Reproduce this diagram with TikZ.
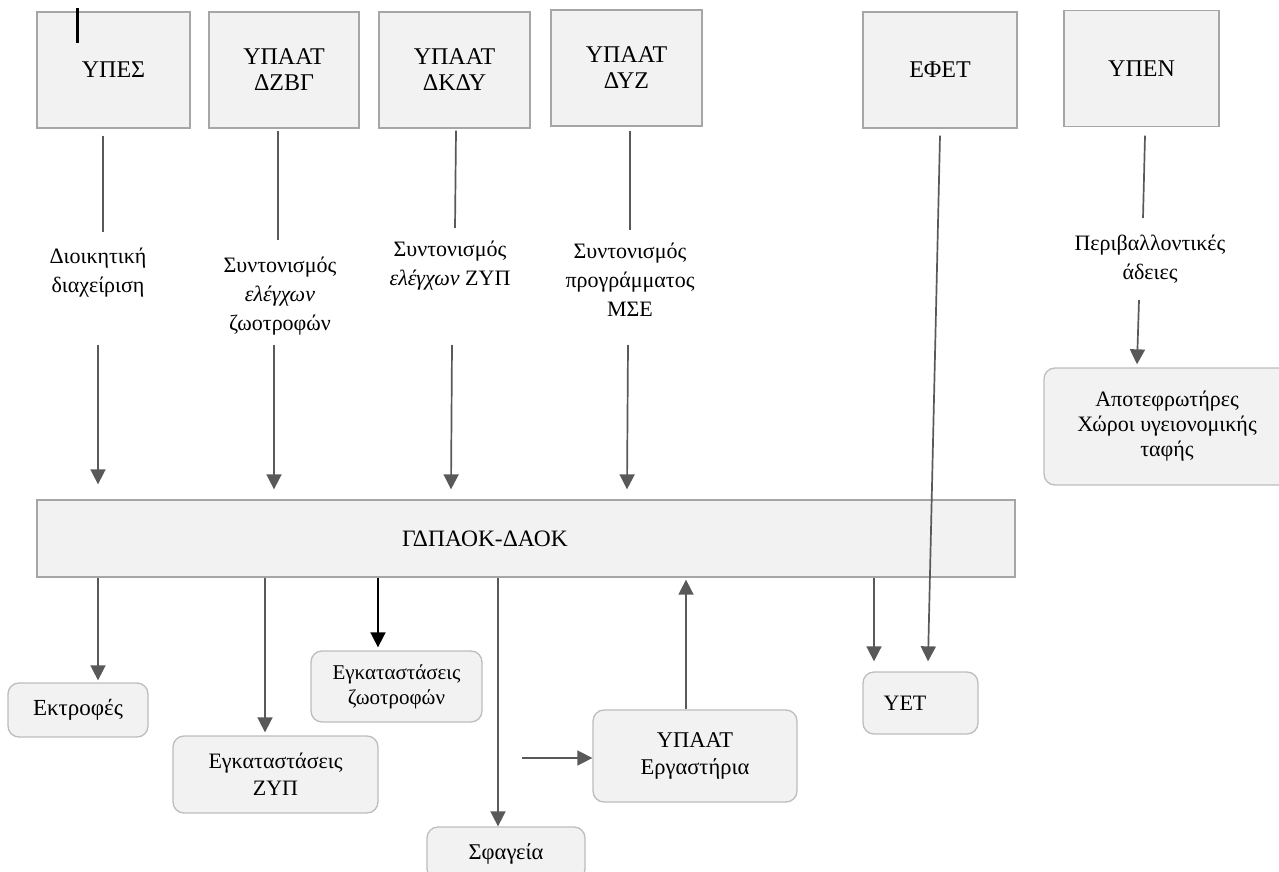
\documentclass[tikz,border=0pt]{standalone}
\usepackage{fontspec}
\setmainfont{Liberation Serif}
\usetikzlibrary{arrows.meta}
\definecolor{boxfill}{HTML}{F2F2F2}
\definecolor{boxline}{HTML}{A6A6A6}
\definecolor{rline}{HTML}{BDBDBD}
\definecolor{lncol}{HTML}{595959}
\begin{document}
\begin{tikzpicture}[x=1pt,y=-1pt,
  box/.style={draw=boxline, fill=boxfill, line width=1.3pt, align=center,
    font=\fontsize{24}{26}\selectfont, inner sep=0pt},
  rbox/.style={box, draw=rline, rounded corners=11pt, font=\fontsize{22}{27}\selectfont},
  lbl/.style={align=center, font=\fontsize{22}{29}\selectfont, inner sep=0pt},
  ln/.style={draw=lncol, line width=1.7pt},
  arr/.style={ln, -{Triangle[length=15pt,width=15pt]}},
  inlbl/.style={font=\fontsize{23.5}{25}\selectfont, inner sep=0pt}
]
\useasboundingbox (0,0) rectangle (1279,872);

% top boxes
\node[box, minimum width=153, minimum height=116] (ypes) at (113.5,70) {ΥΠΕΣ};
\node[box, minimum width=150, minimum height=116] (dzbg) at (284,70) {ΥΠΑΑΤ\\ΔΖΒΓ};
\node[box, minimum width=151, minimum height=116] (dkdy) at (454.5,70) {ΥΠΑΑΤ\\ΔΚΔΥ};
\node[box, minimum width=151, minimum height=116] (dyz) at (626.5,68) {ΥΠΑΑΤ\\ΔΥΖ};
\node[box, minimum width=154, minimum height=116] (efet) at (940,70) {ΕΦΕΤ};
\node[box, minimum width=155, minimum height=116] (ypen) at (1141.5,68.5) {ΥΠΕΝ};

% stray mark
\draw[line width=3pt] (77,8) -- (77,43);

% labels
\node[lbl] (l1) at (98,273) {Διοικητική\\διαχείριση};
\node[lbl] (l2) at (280,296) {Συντονισμός\\{\itshape ελέγχων}\\ζωοτροφών};
\node[lbl] (l3) at (450,266) {Συντονισμός\\{\itshape ελέγχων} ΖΥΠ};
\node[lbl] (l4) at (630,280) {Συντονισμός\\προγράμματος\\ΜΣΕ};
\node[lbl] (l5) at (1150,259) {Περιβαλλοντικές\\άδειες};

% main box
\node[box, minimum width=978, minimum height=77,
  label={[inlbl, xshift=-41pt]center:ΓΔΠΑΟΚ-ΔΑΟΚ}] (main) at (526,538.5) {};

% bottom boxes
\node[rbox, minimum width=140, minimum height=54, font=\fontsize{23}{27}\selectfont] (ektr) at (78,710) {Εκτροφές};
\node[rbox, minimum width=205, minimum height=77] (zyp) at (275.5,774.5) {Εγκαταστάσεις\\ΖΥΠ};
\node[rbox, minimum width=171, minimum height=71, font=\fontsize{21}{25}\selectfont] (zootr) at (396.5,686.5) {Εγκαταστάσεις\\ζωοτροφών};
\node[rbox, minimum width=158, minimum height=53, font=\fontsize{22.5}{25}\selectfont] (sfag) at (506,853.5) {Σφαγεία};
\node[rbox, minimum width=204, minimum height=92, font=\fontsize{22.5}{27}\selectfont] (erg) at (695,756) {ΥΠΑΑΤ\\Εργαστήρια};
\node[rbox, minimum width=115, minimum height=62,
  label={[inlbl, font=\fontsize{22}{25}\selectfont, xshift=-15.5pt]center:ΥΕΤ}] (yet) at (920.5,703) {};
\node[rbox, minimum width=246, minimum height=117, font=\fontsize{22}{25}\selectfont] (apot) at (1167,426.5) {Αποτεφρωτήρες\\Χώροι υγειονομικής\\ταφής};

% connectors top -> labels -> main
\draw[ln] ([shift={(-10.5,7)}]ypes.south) -- ([shift={(5,-41)}]l1.center);
\draw[arr] ([shift={(0,72)}]l1.center) -- ([shift={(-428,-15)}]main.north);
\draw[ln] ([shift={(-6,2)}]dzbg.south) -- ([shift={(-2,-56)}]l2.center);
\draw[arr] ([shift={(-6,49)}]l2.center) -- ([shift={(-252,-10)}]main.north);
\draw[ln] ([shift={(1.5,2)}]dkdy.south) -- ([shift={(5,-38)}]l3.center);
\draw[arr] ([shift={(2,79)}]l3.center) -- ([shift={(-75,-10)}]main.north);
\draw[ln] ([shift={(3.5,4)}]dyz.south) -- ([shift={(0,-50)}]l4.center);
\draw[arr] ([shift={(-2,65)}]l4.center) -- ([shift={(101,-10)}]main.north);

% EFET -> YET
\draw[arr] ([shift={(0,7)}]efet.south) -- ([shift={(7.5,-10)}]yet.north);
% YPEN -> label -> apot
\draw[ln] ([shift={(3.5,8.5)}]ypen.south) -- ([shift={(-7,-41)}]l5.center);
\draw[arr] ([shift={(-11,41)}]l5.center) -- ([shift={(-30,-3)}]apot.north);

% main -> bottom
\draw[arr] ([shift={(-428,0)}]main.south) -- ([shift={(20,-2)}]ektr.north);
\draw[arr] ([shift={(-261,0)}]main.south) -- ([shift={(-10.5,-3)}]zyp.north);
\draw[arr, draw=black] ([shift={(-148,0)}]main.south) -- ([shift={(-18.5,-3)}]zootr.north);
\draw[arr] ([shift={(-28,0)}]main.south) -- ([shift={(-8,0)}]sfag.north);
\draw[arr] ([shift={(-9,0)}]erg.north) -- ([shift={(160,2)}]main.south);
\draw[arr] ([shift={(348,0)}]main.south) -- ([shift={(-46.5,-10)}]yet.north);
\coordinate (hs) at (522,758);
\draw[arr] (hs) -- ([shift={(0,2)}]erg.west);
\end{tikzpicture}
\end{document}
